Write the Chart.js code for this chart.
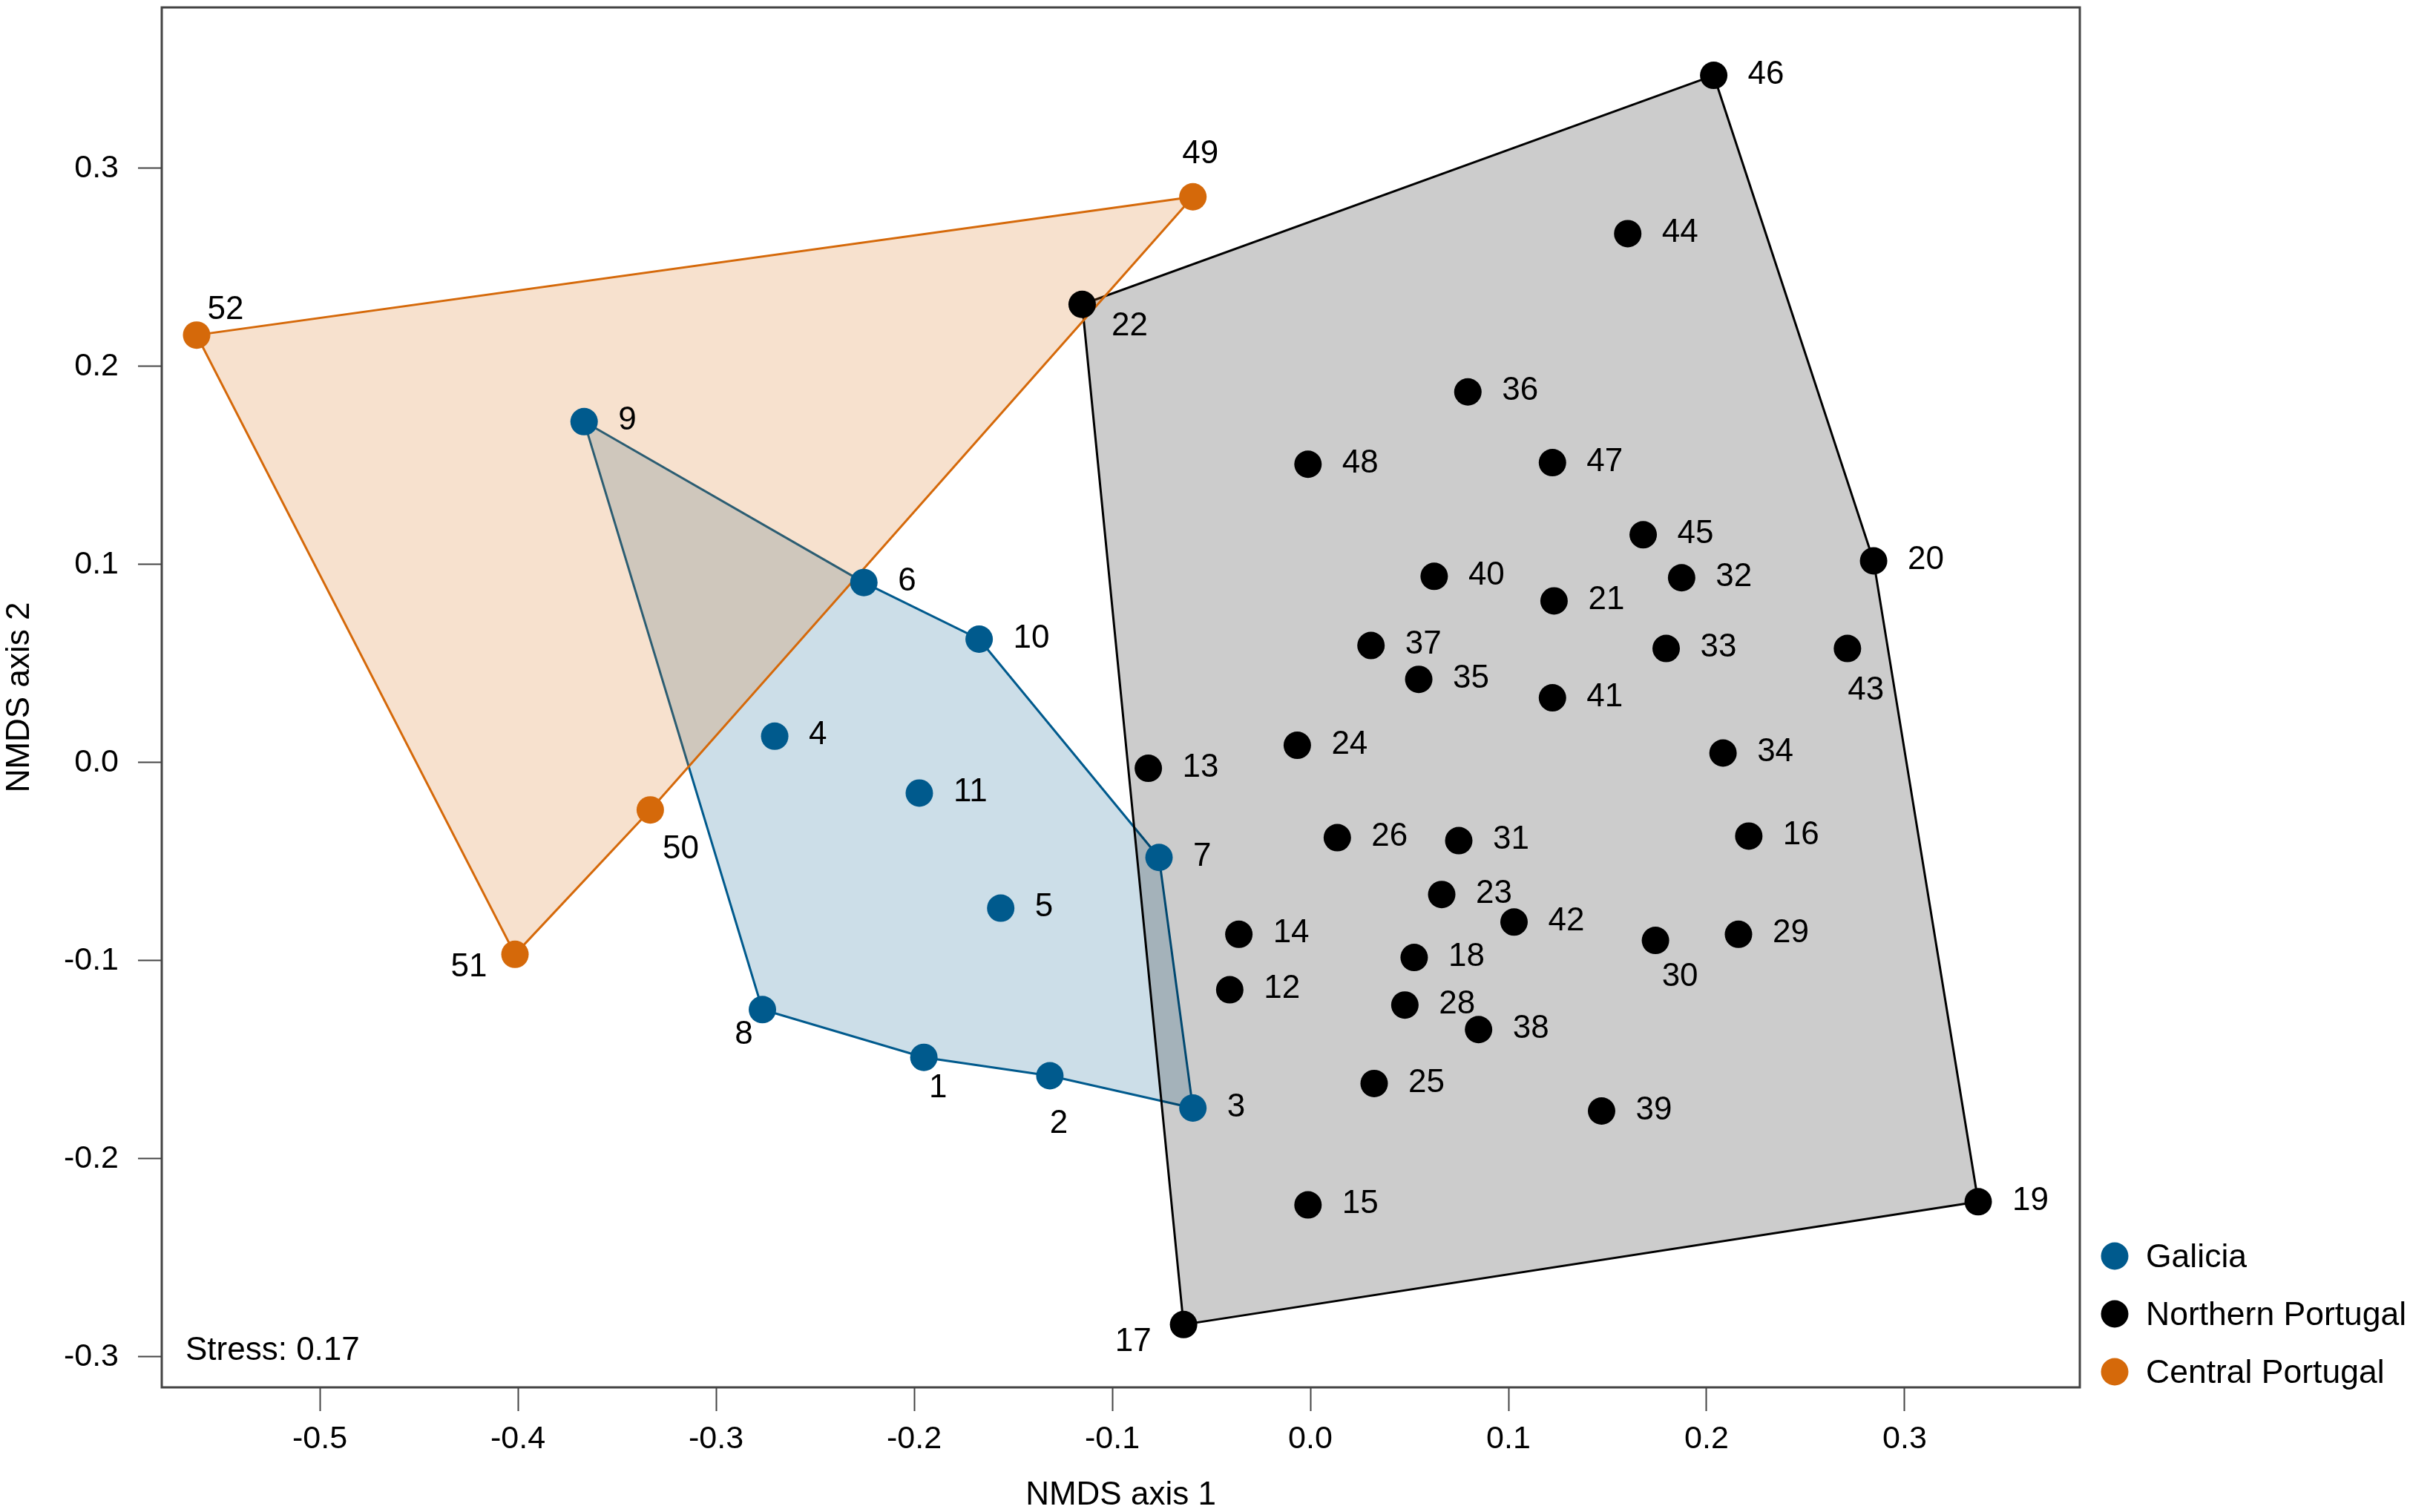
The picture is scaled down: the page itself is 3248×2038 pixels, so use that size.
<!DOCTYPE html>
<html>
<head>
<meta charset="utf-8">
<title>NMDS</title>
<script src="https://cdn.jsdelivr.net/npm/chart.js@4"></script>
<style>
    html, body { margin: 0; padding: 0; background: #fff; overflow: hidden; }
    canvas { display: block; }
</style>
</head>
<body>
<canvas id="nmds" width="3248" height="2038" style="width:3248px;height:2038px"></canvas>
<script>
const regions = ["Galicia", "Northern Portugal", "Central Portugal"];
const xTicks = [-0.5, -0.4, -0.3, -0.2, -0.1, 0, 0.1, 0.2, 0.3];
const yTicks = [-0.3, -0.2, -0.1, 0, 0.1, 0.2, 0.3];
const stressText = "Stress: 0.17";

// site number -> NMDS coordinates
const galiciaIds = [1, 2, 3, 4, 5, 6, 7, 8, 9, 10, 11];
const galiciaX = [-0.1951, -0.1315, -0.0593, -0.2704, -0.1563, -0.2254, -0.0764, -0.2766, -0.3666, -0.1672, -0.1974];
const galiciaY = [-0.1488, -0.1581, -0.1744, 0.0133, -0.0735, 0.0909, -0.0479, -0.1247, 0.1721, 0.0623, -0.0154];

const northIds = [12, 13, 14, 15, 16, 17, 18, 19, 20, 21, 22, 23, 24, 25, 26, 28, 29, 30, 31, 32, 33, 34, 35, 36, 37, 38, 39, 40, 41, 42, 43, 44, 45, 46, 47, 48];
const northX = [-0.0407, -0.0818, -0.0361, -0.0012, 0.2213, -0.0640, 0.0524, 0.3371, 0.2843, 0.1230, -0.1152, 0.0663, -0.0066, 0.0322, 0.0136, 0.0477, 0.2161, 0.1742, 0.0749, 0.1874, 0.1796, 0.2083, 0.0547, 0.0795, 0.0306, 0.0849, 0.1470, 0.0625, 0.1222, 0.1028, 0.2711, 0.1602, 0.1680, 0.2036, 0.1222, -0.0012];
const northY = [-0.1147, -0.0029, -0.0867, -0.2233, -0.0371, -0.2837, -0.0984, -0.2217, 0.1018, 0.0816, 0.2313, -0.0666, 0.0087, -0.1620, -0.0379, -0.1224, -0.0867, -0.0898, -0.0394, 0.0933, 0.0576, 0.0048, 0.0420, 0.1871, 0.0591, -0.1348, -0.1759, 0.0940, 0.0327, -0.0805, 0.0576, 0.2670, 0.1150, 0.3469, 0.1514, 0.1506];

const centralIds = [49, 50, 51, 52];
const centralX = [-0.0593, -0.3332, -0.4015, -0.5622];
const centralY = [0.2856, -0.0239, -0.0968, 0.2158];

// hull outlines, as site numbers
const galiciaHull = [9, 6, 10, 7, 3, 2, 1, 8, 9];
const northHull = [46, 20, 19, 17, 22, 46];
const centralHull = [49, 52, 51, 50, 49];

const colors = ["#005A8D", "#000000", "#D5690A"];
const fills = ["rgba(0,90,141,0.2)", "rgba(0,0,0,0.2)", "rgba(213,105,10,0.2)"];
const FONT = '"Liberation Sans", Arial, sans-serif';

// labels that do not sit to the right of their point (centre offset in px)
const labelShift = {
    1: [19, 42], 2: [12, 65], 8: [-25, 34], 17: [-68, 24], 22: [64, 30],
    30: [33, 49], 43: [25, 57], 49: [10, -57], 50: [41, 53], 51: [-62, 18], 52: [39, -34]
};

function toPoints(ids, xs, ys) {
    return ids.map((id, i) => ({ x: xs[i], y: ys[i], id: id }));
}

function hullPoints(hull, ids, xs, ys) {
    return hull.map(id => {
        const i = ids.indexOf(id);
        return { x: xs[i], y: ys[i] };
    });
}

function pointSet(i, ids, xs, ys) {
    return {
        label: regions[i],
        data: toPoints(ids, xs, ys),
        backgroundColor: colors[i],
        borderWidth: 0,
        pointRadius: 18.5,
        pointHoverRadius: 18.5,
        isSites: true
    };
}

function hullSet(i, hull, ids, xs, ys) {
    return {
        label: regions[i] + " hull",
        data: hullPoints(hull, ids, xs, ys),
        showLine: true,
        fill: "shape",
        tension: 0,
        backgroundColor: fills[i],
        borderColor: colors[i],
        borderWidth: 3,
        pointRadius: 0
    };
}

const extras = {
    id: "extras",
    afterDatasetsDraw(chart) {
        const ctx = chart.ctx;
        const area = chart.chartArea;
        ctx.save();
        ctx.strokeStyle = "#444";
        ctx.lineWidth = 3;
        ctx.strokeRect(area.left, area.top, area.right - area.left, area.bottom - area.top);

        ctx.fillStyle = "#000";
        ctx.font = "44px " + FONT;
        ctx.textBaseline = "middle";
        chart.data.datasets.forEach((ds, d) => {
            if (!ds.isSites) return;
            chart.getDatasetMeta(d).data.forEach((el, i) => {
                const id = ds.data[i].id;
                const shift = labelShift[id];
                if (shift) {
                    ctx.textAlign = "center";
                    ctx.fillText(String(id), el.x + shift[0], el.y + shift[1]);
                } else {
                    ctx.textAlign = "left";
                    ctx.fillText(String(id), el.x + 46, el.y - 1);
                }
            });
        });

        ctx.textAlign = "left";
        ctx.textBaseline = "alphabetic";
        ctx.fillText(stressText, 250, 1833);

        ctx.font = "44.5px " + FONT;
        regions.forEach((name, i) => {
            const y = 1693 + i * 78;
            ctx.fillStyle = colors[i];
            ctx.beginPath();
            ctx.arc(2850, y, 18.5, 0, Math.PI * 2);
            ctx.fill();
            ctx.fillStyle = "#000";
            ctx.textBaseline = "middle";
            ctx.fillText(name, 2892, y + 3);
        });
        ctx.restore();
    }
};

new Chart("nmds", {
    type: "scatter",
    data: {
        // later datasets are painted first, so Galicia's hull ends up at the bottom
        datasets: [
            pointSet(0, galiciaIds, galiciaX, galiciaY),
            pointSet(1, northIds, northX, northY),
            pointSet(2, centralIds, centralX, centralY),
            hullSet(2, centralHull, centralIds, centralX, centralY),
            hullSet(1, northHull, northIds, northX, northY),
            hullSet(0, galiciaHull, galiciaIds, galiciaX, galiciaY)
        ]
    },
    options: {
        responsive: false,
        animation: false,
        devicePixelRatio: 1,
        layout: { autoPadding: false, padding: { left: 0, top: 10, right: 445, bottom: 0 } },
        plugins: { legend: { display: false }, tooltip: { enabled: false } },
        scales: {
            x: {
                type: "linear",
                min: -0.5798,
                max: 0.3884,
                afterBuildTicks: scale => { scale.ticks = xTicks.map(v => ({ value: v })); },
                afterFit: scale => {
                    scale.height = 168;
                    scale.paddingLeft = 0;
                    scale.paddingRight = 0;
                },
                grid: { drawOnChartArea: false, drawTicks: true, tickLength: 32, tickWidth: 2, tickColor: "#444" },
                border: { display: false },
                ticks: {
                    maxRotation: 0,
                    autoSkip: false,
                    padding: 12,
                    color: "#000",
                    font: { family: FONT, size: 43 },
                    callback: v => v.toFixed(1)
                },
                title: {
                    display: true,
                    text: "NMDS axis 1",
                    color: "#000",
                    font: { family: FONT, size: 44 },
                    padding: { top: 0, bottom: -4 }
                }
            },
            y: {
                type: "linear",
                min: -0.3154,
                max: 0.3812,
                afterBuildTicks: scale => { scale.ticks = yTicks.map(v => ({ value: v })); },
                afterFit: scale => {
                    scale.width = 218;
                    scale.paddingTop = 0;
                    scale.paddingBottom = 0;
                },
                grid: { drawOnChartArea: false, drawTicks: true, tickLength: 32, tickWidth: 2, tickColor: "#444" },
                border: { display: false },
                ticks: {
                    autoSkip: false,
                    padding: 26,
                    color: "#000",
                    font: { family: FONT, size: 43 },
                    callback: v => v.toFixed(1)
                },
                title: {
                    display: true,
                    text: "NMDS axis 2",
                    color: "#000",
                    font: { family: FONT, size: 44 },
                    padding: { top: 0, bottom: 0 }
                }
            }
        }
    },
    plugins: [extras]
});
</script>
</body>
</html>
